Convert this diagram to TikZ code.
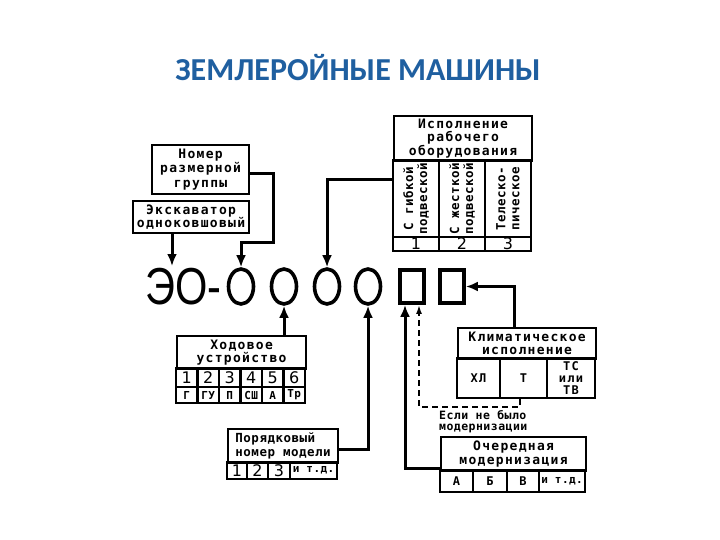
\documentclass[tikz,border=0pt]{standalone}
\usepackage{fontspec}
\setmainfont{DejaVu Sans}
\newfontfamily\pixfont{DejaVu Sans Mono}[LetterSpace=10]
\newfontfamily\pixnarrow{DejaVu Sans Mono}[LetterSpace=4]
\newfontfamily\titlefont{Carlito}
\newfontfamily\bigfont{Liberation Sans}
\usepackage{xcolor}
\usepackage{tikz}
\usetikzlibrary{shapes.geometric, arrows.meta, positioning, calc}
\definecolor{titleblue}{RGB}{31,95,160}

\begin{document}
\begin{tikzpicture}[x=1pt, y=-1pt,
		box/.style={rectangle, draw=black, line width=2.2pt, inner sep=0pt, align=center,
				font=\fontsize{13}{13.5}\pixfont\bfseries},
		vbox/.style={box, rotate=90, font=\fontsize{12.5}{14}\pixnarrow\bfseries},
		small/.style={box, font=\fontsize{12}{12}\pixfont\bfseries},
		digit/.style={box, font=\fontsize{16}{16}\selectfont},
		ring/.style={ellipse, draw=black, line width=3.6pt, minimum width=25, minimum height=35, inner sep=0pt},
		slot/.style={rectangle, draw=black, line width=3.8pt, minimum width=24, minimum height=33, inner sep=0pt},
		conn/.style={draw, line width=3pt, -{Latex[length=12pt,width=10pt]}},
		dconn/.style={draw, line width=2pt, dash pattern=on 6pt off 4pt, -{Latex[length=9pt,width=6pt]}}]
	\useasboundingbox (0,0) rectangle (720,540);

	% Title
	\node[font=\fontsize{32}{36}\titlefont\bfseries, text=titleblue] (title) at (358,68) {ЗЕМЛЕРОЙНЫЕ МАШИНЫ};

	% Index line
	\node[font=\fontsize{52}{52}\bigfont, xscale=0.8, inner sep=0pt, anchor=west] (eo) at (145,287) {ЭО-};
	\node[ring] (o1) at (241,286.5) {};
	\node[ring] (o2) at (284,286.5) {};
	\node[ring] (o3) at (327,286.5) {};
	\node[ring] (o4) at (368,286.5) {};
	\node[slot] (r1) at (412,286.5) {};
	\node[slot] (r2) at (452,286.5) {};

	% Upper left boxes
	\node[box, anchor=north west, minimum width=97, minimum height=49, font=\fontsize{13}{14.5}\pixfont\bfseries] (nomer) at (151,144) {Номер\\размерной\\группы};
	\node[box, anchor=north west, minimum width=116, minimum height=32] (ekskav) at (132,200) {Экскаватор\\одноковшовый};

	% Working equipment
	\node[box, anchor=north west, minimum width=138, minimum height=45] (isp) at (393,115) {Исполнение\\рабочего\\оборудования};
	\foreach [count=\i] \x/\t in {416/{С гибкой\\подвеской}, 462/{С жесткой\\подвеской}, 508/{Телеско-\\пическое}}
		{
			\node[vbox, minimum width=77, minimum height=46] (isp\i) at (\x,198.5) {\t};
			\node[digit, minimum width=46, minimum height=14] (ispn\i) at (\x,244) {\i};
		}

	% Undercarriage
	\node[box, anchor=north west, minimum width=129, minimum height=33] (hod) at (176,335) {Ходовое\\устройство};
	\foreach [count=\i] \l in {Г,ГУ,П,СШ,А,Тр}
		{
			\node[digit, minimum width=21.5, minimum height=19] (hodn\i) at ({176+21.5*(\i-0.5)},377.5) {\i};
			\node[small, minimum width=21.5, minimum height=16, font=\fontsize{11}{11.5}\pixnarrow\bfseries] (hodl\i) at ({176+21.5*(\i-0.5)},395) {\l};
		}

	% Model number
	\node[box, anchor=north west, minimum width=110, minimum height=34, align=left, font=\fontsize{12.5}{14}\pixnarrow\bfseries] (por) at (227,428) {Порядковый\\номер модели};
	\foreach [count=\i] \x/\w/\t in {237/20/1, 257.5/21/2, 279/22/3}
		\node[digit, minimum width=\w, minimum height=17] (porn\i) at (\x,470.5) {\t};
	\node[small, minimum width=47, minimum height=17, font=\fontsize{11}{11}\pixnarrow\bfseries] (porn4) at (313.5,470.5) {и т.д.};

	% Climate
	\node[box, anchor=north west, minimum width=138, minimum height=31] (kl) at (457,327) {Климатическое\\исполнение};
	\foreach [count=\i] \x/\w/\t in {478.5/43/ХЛ, 523.5/47/Т, 571/48/{ТС\\или\\ТВ}}
		\node[small, minimum width=\w, minimum height=40] (kl\i) at (\x,378) {\t};

	% Modernization
	\node[box, anchor=north west, minimum width=145, minimum height=34] (och) at (440,436) {Очередная\\модернизация};
	\foreach [count=\i] \x/\w/\t in {456.5/33/А, 490/34/Б, 523/32/В}
		\node[small, minimum width=\w, minimum height=22] (och\i) at (\x,481) {\t};
	\node[small, minimum width=46, minimum height=22, font=\fontsize{11}{11}\pixnarrow\bfseries] (och4) at (562,481) {и т.д.};
	\node[font=\fontsize{11.5}{11.5}\pixnarrow\bfseries, align=left, anchor=north west, inner sep=0pt] (esli) at (439,410) {Если не было\\модернизации};

	% Connectors
	\coordinate (eoin) at (172,266);
	\coordinate (bend1) at (273,242);
	\draw[conn] (ekskav.south -| eoin) -- (eoin);
	\draw[conn] ([yshift=-4pt]nomer.east) -| (bend1) -| (o1.north);
	\draw[conn] ([yshift=-17pt]isp.south west) -| (o3.north);
	\draw[conn] (o2.south |- hod.north) -- (o2.south);
	\draw[conn] ([yshift=-3pt]por.east) -| (o4.south);
	\draw[conn] ([yshift=4pt]och.south west) -| ([xshift=-7pt]r1.south);
	\draw[dconn] ([xshift=-4pt]kl2.south) -- ++(0,8) -| ([xshift=7pt]r1.south);
	\draw[conn] ([xshift=-13pt]kl.north) |- (r2.east);

\end{tikzpicture}
\end{document}
